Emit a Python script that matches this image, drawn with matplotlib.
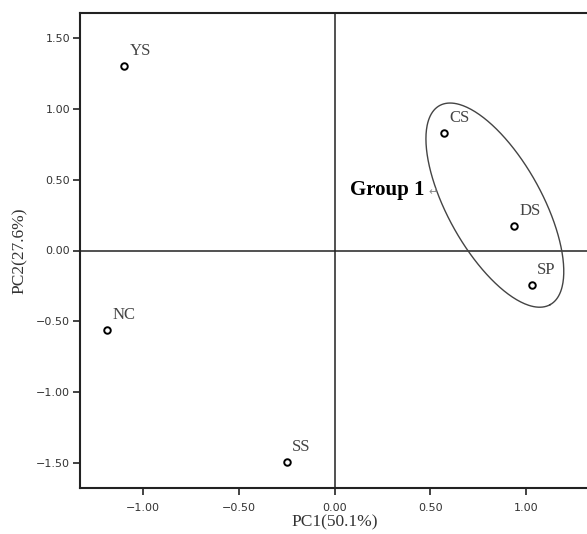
import numpy as np
import matplotlib
matplotlib.use('AGG')
import matplotlib.pyplot as plt

# sample scores on the first two components
names = ['YS', 'NC', 'SS', 'CS', 'DS', 'SP']
pc1 = [-1.10, -1.19, -0.25, 0.57, 0.94, 1.03]
pc2 = [1.30, -0.56, -1.49, 0.83, 0.17, -0.24]

x_ticks = [-1.00, -0.50, 0.00, 0.50, 1.00]
y_ticks = [-1.50, -1.00, -0.50, 0.00, 0.50, 1.00, 1.50]

def fmt(v):
    return ('%.2f' % v).replace('-', '\u2212')

fig = plt.figure(figsize=(5.87, 5.34), dpi=100)
ax = fig.add_axes([80 / 587, 46 / 534, 509 / 587, 475 / 534])
ax.set_xlim(-1.33, 1.33)
ax.set_ylim(-1.675, 1.675)

# reference lines through the origin
ax.axhline(0, color='#222222', lw=1.1, zorder=1)
ax.axvline(0, color='#222222', lw=1.1, zorder=1)

ax.scatter(pc1, pc2, s=22, facecolors='white', edgecolors='black', linewidths=1.4, zorder=3)
for n, x, y in zip(names, pc1, pc2):
    ax.annotate(n, (x, y), xytext=(4, 5), textcoords='offset points',
                ha='left', va='bottom', family='Liberation Serif', fontsize=12, color='#444444')

# ellipse around group 1
t = np.linspace(0, 2 * np.pi, 300)
cx, cy = 0.838, 0.32
ex = cx + 0.289 * np.cos(t) + 0.215 * np.sin(t)
ey = cy - 0.702 * np.cos(t) + 0.160 * np.sin(t)
ax.plot(ex, ey, color='#444444', lw=1.0, zorder=2)
ax.text(0.08, 0.43, 'Group 1', family='Liberation Serif', fontweight='bold', fontsize=15,
        ha='left', va='center')
ax.text(0.49, 0.41, '\u21b5', fontsize=8, color='#888888', ha='left', va='center')

ax.set_xticks(x_ticks)
ax.set_yticks(y_ticks)
ax.set_xticklabels([fmt(v) for v in x_ticks])
ax.set_yticklabels([fmt(v) for v in y_ticks])
ax.tick_params(labelsize=8, length=5, width=1.2, color='#222222', labelcolor='#333333')
ax.tick_params(axis='x', pad=6)
ax.tick_params(axis='y', pad=2)
for s in ax.spines.values():
    s.set_linewidth(1.5)
    s.set_color('#222222')

ax.set_xlabel('PC1(50.1%)', family='Liberation Serif', fontsize=12.5, color='#333333', labelpad=1)
ax.set_ylabel('PC2(27.6%)', family='Liberation Serif', fontsize=12.5, color='#333333', labelpad=6)

plt.savefig('out.png', dpi=100)
